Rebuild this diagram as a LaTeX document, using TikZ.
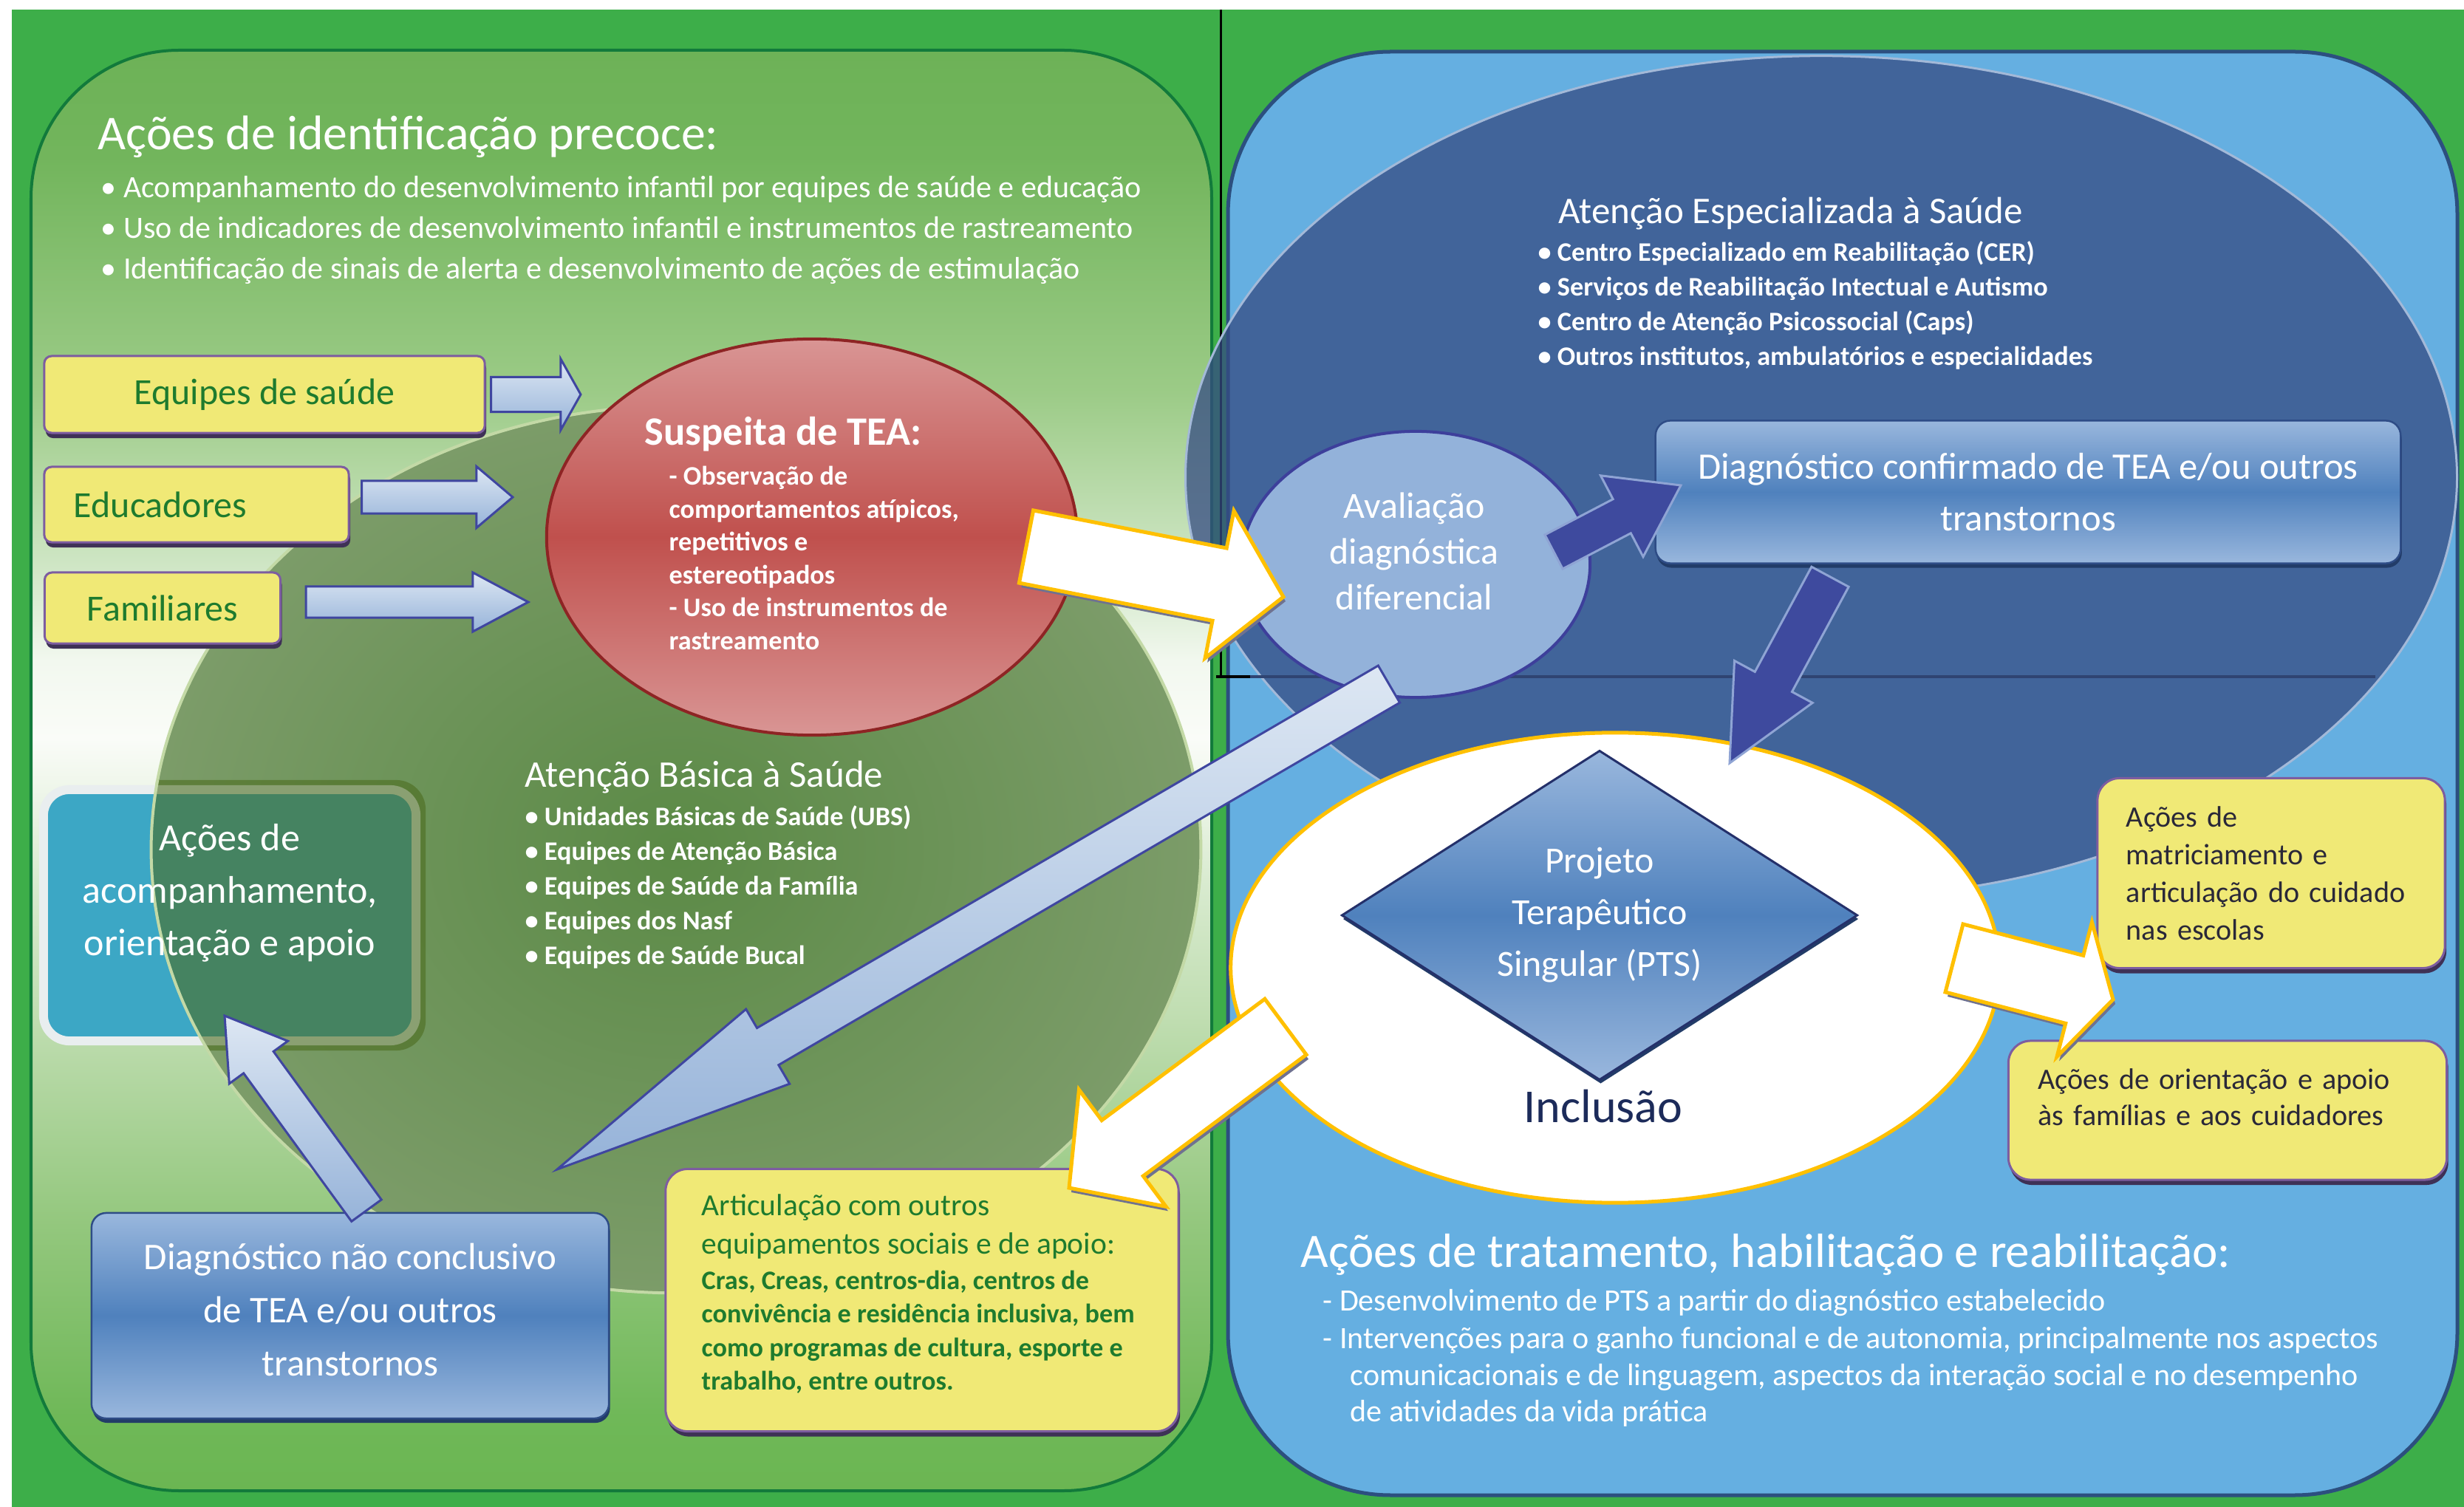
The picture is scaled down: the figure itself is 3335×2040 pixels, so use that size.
\documentclass[tikz,border=0pt]{standalone}
\usepackage{fontspec}
\setmainfont{Carlito}
\usetikzlibrary{calc,shapes.geometric,shadows}

\definecolor{bggreen}{HTML}{3DAE49}
\definecolor{lpanelrim}{HTML}{127A3B}
\definecolor{lp1}{HTML}{6BB652}
\definecolor{lp2}{HTML}{6FB858}
\definecolor{lp3}{HTML}{93C77D}
\definecolor{lp4}{HTML}{BFDDB0}
\definecolor{lp5}{HTML}{D9EBD0}
\definecolor{lp6}{HTML}{FAFCF8}
\definecolor{lp7}{HTML}{F2F8EF}
\definecolor{lp8}{HTML}{CFE6C5}
\definecolor{lp9}{HTML}{9CCB87}
\definecolor{lp10}{HTML}{72B55C}
\definecolor{lp11}{HTML}{6DB257}
\definecolor{rpanel}{HTML}{65AFE1}
\definecolor{rpanelrim}{HTML}{2C4F7F}
\definecolor{cbin}{HTML}{5B8A46}
\definecolor{cbout}{HTML}{7C9C69}
\definecolor{cbrim}{HTML}{C3D9A6}
\definecolor{acompteal}{HTML}{3CA7C5}
\definecolor{acompglow}{HTML}{E9EEEF}
\definecolor{acompover}{HTML}{4C6C1F}
\definecolor{espfill}{HTML}{354B83}
\definecolor{esprim}{HTML}{A3B9D8}
\definecolor{navyline}{HTML}{2F4472}
\definecolor{yfill}{HTML}{F0E976}
\definecolor{yrim}{HTML}{7D5DA0}
\definecolor{yshadow}{HTML}{3E3156}
\definecolor{ytext}{HTML}{1E7B2E}
\definecolor{ydark}{HTML}{2A2838}
\definecolor{la1}{HTML}{DDE7F3}
\definecolor{la2}{HTML}{96B3D9}
\definecolor{larim}{HTML}{3F46A0}
\definecolor{susptop}{HTML}{D99594}
\definecolor{suspmid}{HTML}{C0504D}
\definecolor{susprim}{HTML}{8E2424}
\definecolor{avalfill}{HTML}{93B2DA}
\definecolor{avalrim}{HTML}{3D3F9B}
\definecolor{bl1}{HTML}{99B7DD}
\definecolor{bl2}{HTML}{4F81BD}
\definecolor{blrim}{HTML}{2E4C86}
\definecolor{blshadow}{HTML}{223C68}
\definecolor{ptsrim}{HTML}{24306A}
\definecolor{daf}{HTML}{3E4A9E}
\definecolor{darim}{HTML}{8FA4D4}
\definecolor{worange}{HTML}{FFC000}
\definecolor{wshadow}{HTML}{6F7290}
\definecolor{inclnavy}{HTML}{1C2B5A}

\pgfdeclareverticalshading{leftpanel}{100bp}{color(0bp)=(lp1); color(25bp)=(lp1); color(27.6bp)=(lp2); color(34.2bp)=(lp3); color(41.3bp)=(lp4); color(46.2bp)=(lp5); color(51.1bp)=(lp6); color(53.8bp)=(lp7); color(57.1bp)=(lp8); color(63.1bp)=(lp9); color(71.3bp)=(lp10); color(75bp)=(lp11); color(100bp)=(lp11)}

\newcommand{\blockarrow}[6][]{%
  \coordinate (hb) at ($(#3)!#6!(#2)$);
  \path[#1] ($(#2)!#4!90:(#3)$) -- ($(hb)!#4!90:(#3)$) -- ($(hb)!#5!90:(#3)$) -- (#3)
    -- ($(hb)!#5!-90:(#3)$) -- ($(hb)!#4!-90:(#3)$) -- ($(#2)!#4!-90:(#3)$) -- cycle;
}

\tikzset{
  row/.style={inner sep=0, anchor=base west, text=white},
  ftitle/.style={font=\fontsize{18.7}{22}\selectfont},
  fbig/.style={font=\fontsize{18.5}{22}\selectfont},
  fhead/.style={font=\fontsize{14.5}{17}\selectfont},
  fsmall/.style={font=\fontsize{11.95}{15}\selectfont},
  fsmallb/.style={font=\bfseries\fontsize{10.3}{12.5}\selectfont},
  ybox/.style={rectangle, rounded corners=0.1cm, fill=yfill, draw=yrim, line width=0.03cm, inner sep=0,
    text=ytext, font=\fontsize{14.2}{17}\selectfont,
    drop shadow={shadow xshift=0.02cm, shadow yshift=-0.07cm, fill=yshadow, opacity=1}},
  bluebox/.style={rectangle, rounded corners=0.2cm, draw=blrim, line width=0.025cm,
    top color=bl1, bottom color=bl1, middle color=bl2, text=white, inner sep=0,
    drop shadow={shadow xshift=0.015cm, shadow yshift=-0.06cm, fill=blshadow, opacity=1}},
  basicell/.style={ellipse, minimum width=14.2cm, minimum height=12cm, inner sep=0,
    inner color=cbin, outer color=cbout, draw=cbrim, line width=0.04cm},
  acompbox/.style={rectangle, rounded corners=0.35cm, minimum width=5.04cm, minimum height=3.4cm,
    fill=acompteal, draw=acompglow, line width=0.12cm},
  espell/.style={ellipse, minimum width=17.2cm, minimum height=11.4cm, inner sep=0,
    fill=espfill, fill opacity=0.75, draw=esprim, line width=0.03cm},
  suspell/.style={ellipse, minimum width=7.18cm, minimum height=5.36cm, inner sep=0,
    top color=susptop, bottom color=susptop, middle color=suspmid, draw=susprim, line width=0.04cm},
  avalell/.style={ellipse, minimum width=4.72cm, minimum height=3.6cm, inner sep=0,
    fill=avalfill, draw=avalrim, line width=0.04cm},
  inclell/.style={ellipse, minimum width=10.4cm, minimum height=6.36cm, inner sep=0,
    fill=white, draw=worange, line width=0.05cm},
  ptsdia/.style={diamond, aspect=1.565, minimum width=6.98cm, minimum height=4.46cm, inner sep=0,
    top color=bl1, bottom color=bl1, middle color=bl2, draw=ptsrim, line width=0.03cm,
    align=center, text=white, font=\fontsize{14.2}{19.9}\selectfont,
    drop shadow={shadow xshift=0.015cm, shadow yshift=-0.05cm, fill=blshadow, opacity=1}},
  larrow/.style={draw=larim, line width=0.03cm, top color=la1, bottom color=la2},
  darrow/.style={draw=darim, line width=0.03cm, fill=daf},
  warrow/.style={draw=worange, line width=0.05cm, fill=white,
    preaction={fill=wshadow, transform canvas={shift={(0.03cm,-0.06cm)}}}}
}

\begin{document}
\begin{tikzpicture}[x=0.01cm,y=-0.01cm]
\useasboundingbox (0,0) rectangle (3335,2040);
\fill[white] (0,0) rectangle (3335,2040);
\fill[bggreen] (16,13) rectangle (3335,2040);
\shadedraw[shading=leftpanel, draw=lpanelrim, line width=0.04cm, rounded corners=2cm] (42,68) rectangle (1640,2018);
\draw[fill=rpanel, draw=rpanelrim, line width=0.05cm, rounded corners=2.2cm] (1662,70) rectangle (3326,2024);

\node[basicell] (basic) at (915,1150) {};
\node[acompbox] (acomp) at (311,1239) {};
\begin{scope}
  \clip[rounded corners=0.4cm] ($(acomp.south west)+(-7,7)$) rectangle ($(acomp.north east)+(7,-7)$);
  \fill[acompover, fill opacity=0.6] (basic.center) ellipse [x radius=7.1cm, y radius=6cm];
  \draw[cbrim, line width=0.04cm] (basic.center) ellipse [x radius=7.1cm, y radius=6cm];
\end{scope}
\node[align=center, text=white, inner sep=0, font=\fontsize{14.8}{20.2}\selectfont] (acomplbl) at ($(acomp.center)+(0,-30)$) {Ações de\\acompanhamento,\\orientação e apoio};

\draw[black, line width=0.03cm] (1652,13) -- (1652,916);
\node[espell] (esp) at (2465,646) {};
\draw[black, line width=0.035cm] (1646,916) -- (1692,916);
\draw[navyline, line width=0.035cm] (1692,916) -- (3215,916);

\node[ybox, minimum width=5.96cm, minimum height=1.04cm] (eq) at (358,534) {Equipes de saúde};
\node[ybox, minimum height=1.02cm, text width=3.32cm, align=left, inner xsep=0.4cm] (edu) at (266,683) {Educadores};
\node[ybox, minimum width=3.19cm, minimum height=0.96cm] (fam) at (220,823) {Familiares};

\coordinate (eqtail) at ($(eq.east)+(7,0)$);
\coordinate (eqtip) at (786,534);
\coordinate (edutail) at ($(edu.east)+(16,-10)$);
\coordinate (edutip) at (694,673);
\coordinate (famtail) at ($(fam.east)+(33,-8)$);
\coordinate (famtip) at (715,815);
\blockarrow[larrow]{eqtail}{eqtip}{0.235cm}{0.48cm}{0.27cm}
\blockarrow[larrow]{edutail}{edutip}{0.22cm}{0.415cm}{0.49cm}
\blockarrow[larrow]{famtail}{famtip}{0.21cm}{0.4cm}{0.75cm}

\node[suspell] (susp) at (1099,727) {};
\node[row, font=\bfseries\fontsize{15.5}{18}\selectfont] (susptitle) at (872,603) {Suspeita de TEA:};
\foreach \t [count=\i from 0] in {- Observação de, {comportamentos atípicos,}, repetitivos e, estereotipados, - Uso de instrumentos de, rastreamento}
  \node[row, fsmallb] (susp\i) at (905,{657+44.5*\i}) {\t};

\node[row, fhead] (basictitle) at (710,1065) {Atenção Básica à Saúde};
\foreach \t [count=\i from 0] in {{Unidades Básicas de Saúde (UBS)}, {Equipes de Atenção Básica}, {Equipes de Saúde da Família}, {Equipes dos Nasf}, {Equipes de Saúde Bucal}}
  \node[row, fsmallb] (basic\i) at (710,{1117+47.2*\i}) {\textbullet\ \t};

\node[row, fhead] (esptitle) at (2109,303) {Atenção Especializada à Saúde};
\foreach \t [count=\i from 0] in {{Centro Especializado em Reabilitação (CER)}, {Serviços de Reabilitação Intectual e Autismo}, {Centro de Atenção Psicossocial (Caps)}, {Outros institutos, ambulatórios e especialidades}}
  \node[row, fsmallb] (esp\i) at (2081,{354+46.7*\i}) {\textbullet\ \t};

\node[avalell] (aval) at (1916,764) {};
\node[align=center, text=white, inner sep=0, font=\fontsize{14.2}{17.6}\selectfont] (avallbl) at (1914,746) {Avaliação\\diagnóstica\\diferencial};
\node[bluebox, minimum width=10.08cm, minimum height=1.93cm, align=center, font=\fontsize{14.4}{19.9}\selectfont] (diagc) at (2745,666) {Diagnóstico confirmado de TEA e/ou outros\\transtornos};

\node[inclell] (incl) at (2186,1310) {};
\node[ptsdia] (pts) at (2165,1239) {Projeto\\Terapêutico\\Singular (PTS)};
\node[anchor=base, inner sep=0, text=inclnavy, font=\fontsize{18.2}{22}\selectfont] (incllbl) at (2170,1519) {Inclusão};

\node[ybox, rounded corners=0.3cm, minimum width=6.94cm, minimum height=3.55cm] (artic) at (1248,1760) {};
\node[row, text=ytext, font=\fontsize{11.8}{14.5}\selectfont] (artic0) at (949,1645) {Articulação com outros};
\node[row, text=ytext, font=\fontsize{11.8}{14.5}\selectfont] (artic1) at (949,1697) {equipamentos sociais e de apoio:};
\foreach \t [count=\i from 2] in {{Cras, Creas, centros-dia, centros de}, {convivência e residência inclusiva, bem}, {como programas de cultura, esporte e}, {trabalho, entre outros.}}
  \node[row, text=ytext, fsmallb] (artic\i) at (949,{1745+45.5*(\i-2)}) {\t};

\node[bluebox, minimum width=7cm, minimum height=2.78cm] (diagn) at (474,1781) {};
\node[align=center, text=white, inner sep=0, font=\fontsize{14.5}{20.5}\selectfont] (diagnlbl) at ($(diagn.center)+(0,-8)$) {Diagnóstico não conclusivo\\de TEA e/ou outros\\transtornos};

\node[ybox, rounded corners=0.3cm, minimum height=2.57cm, text width=3.92cm, align=left, inner xsep=0.39cm, text=ydark, font=\fontsize{11.4}{14.5}\selectfont] (matric) at (3074,1182) {Ações de\\matriciamento e\\articulação do cuidado\\nas escolas};
\node[ybox, rounded corners=0.3cm, minimum width=5.93cm, minimum height=1.88cm] (orient) at (3015,1503) {};
\node[text=ydark, align=left, text width=5.13cm, inner sep=0, font=\fontsize{11.4}{14}\selectfont] (orientlbl) at ($(orient.center)+(0,-18)$) {Ações de orientação e apoio\\às famílias e aos cuidadores};

\coordinate (susptail) at ($(susp.center)+(290,13)$);
\coordinate (avaltip) at (1737,808);
\blockarrow[warrow]{susptail}{avaltip}{0.5cm}{1.015cm}{0.88cm}
\coordinate (avaltail) at ($(aval.center)+(187,-17)$);
\coordinate (diagctip) at (2275,657);
\blockarrow[darrow]{avaltail}{diagctip}{0.26cm}{0.62cm}{0.9cm}
\coordinate (diagctail) at ($(diagc.south)+(-268,17)$);
\coordinate (incltip) at (2341,1033);
\blockarrow[darrow]{diagctail}{incltip}{0.285cm}{0.6cm}{1.25cm}
\coordinate (avalfoot) at ($(aval.south)+(-36,-20)$);
\coordinate (basictip) at (754,1583);
\blockarrow[larrow]{avalfoot}{basictip}{0.29cm}{0.585cm}{3.3cm}
\coordinate (diagntail) at ($(diagn.north)+(22,-2)$);
\coordinate (acomptip) at (304,1375);
\blockarrow[larrow]{diagntail}{acomptip}{0.25cm}{0.49cm}{0.78cm}
\coordinate (incltailA) at ($(incl.center)+(-446,80)$);
\coordinate (artictip) at (1447,1608);
\blockarrow[warrow]{incltailA}{artictip}{0.47cm}{0.985cm}{0.9cm}
\coordinate (incltailB) at ($(incl.center)+(459,-13)$);
\coordinate (rboxtip) at (2860,1353);
\blockarrow[warrow]{incltailB}{rboxtip}{0.475cm}{0.94cm}{0.54cm}

\node[row, ftitle] (idtitle) at (132,203) {Ações de identificação precoce:};
\foreach \t [count=\i from 0] in {{Acompanhamento do desenvolvimento infantil por equipes de saúde e educação}, {Uso de indicadores de desenvolvimento infantil e instrumentos de rastreamento}, {Identificação de sinais de alerta e desenvolvimento de ações de estimulação}}
  \node[row, fsmall] (id\i) at (136,{268+55*\i}) {\textbullet\ \t};

\node[row, fbig] (treattitle) at (1760,1715) {Ações de tratamento, habilitação e reabilitação:};
\node[row, fsmall] (treat0) at (1790,1774) {- Desenvolvimento de PTS a partir do diagnóstico estabelecido};
\node[row, fsmall] (treat1) at (1790,1825) {- Intervenções para o ganho funcional e de autonomia, principalmente nos aspectos};
\node[row, fsmall] (treat2) at (1827,1875) {comunicacionais e de linguagem, aspectos da interação social e no desempenho};
\node[row, fsmall] (treat3) at (1827,1924) {de atividades da vida prática};
\end{tikzpicture}
\end{document}
